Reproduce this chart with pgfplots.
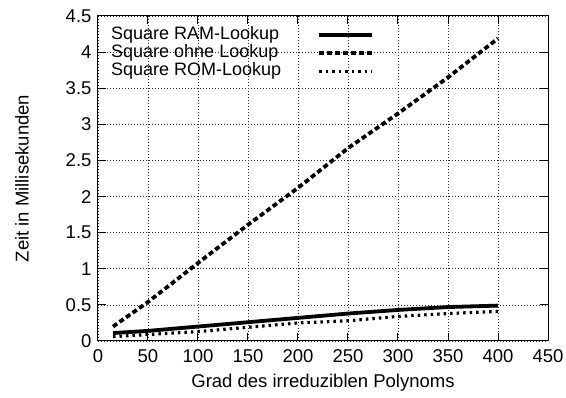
\documentclass[border=0pt]{standalone}
\usepackage{fontspec}
\setmainfont{Liberation Sans}
\usepackage{pgfplots}
\pgfplotsset{compat=1.18}
\begin{document}
\begin{tikzpicture}
\path[use as bounding box] (-98pt,-57pt) rectangle (468pt,341pt);
\begin{axis}[
  scale only axis,
  width=450pt, height=325pt,
  xmin=0, xmax=450, ymin=0, ymax=4.5,
  xtick={0,50,...,450},
  ytick={0,0.5,...,4.5},
  /pgf/number format/assume math mode=true,
  tick label style={font=\fontsize{18.5}{20}\selectfont},
  label style={font=\fontsize{18.5}{20}\selectfont},
  xticklabel style={yshift=-5pt},
  yticklabel style={xshift=-3pt},
  xlabel={Grad des irreduziblen Polynoms},
  ylabel={Zeit in Millisekunden},
  xlabel style={at={(axis description cs:0.5,-0.129)}, anchor=center},
  ylabel style={at={(axis description cs:-0.169,0.5)}, anchor=center},
  grid=major,
  major grid style={black!80, line width=0.6pt, dash pattern=on 1pt off 2pt},
  tick align=inside,
  xtick pos=both, ytick pos=both,
  major tick length=8pt,
  every tick/.style={black, line width=1pt},
  axis line style={line width=1pt},
  legend plot pos=right,
  legend cell align=left,
  legend style={at={(axis description cs:0,1)}, anchor=north west,
    xshift=10pt, yshift=-8pt, draw=none, fill=none,
    font=\fontsize{18}{18}\selectfont,
    row sep=0pt, column sep=36pt,
    nodes={inner sep=0pt, text height=13.5pt, text depth=4.5pt}},
  legend image code/.code={\draw[#1] (0pt,0pt) -- (53pt,0pt);},
]
\addplot[black, line width=3.8pt] coordinates {
(15,0.11) (50,0.14) (100,0.20) (150,0.26) (200,0.32) (250,0.38) (300,0.43) (350,0.47) (400,0.49)};
\addlegendentry{Square RAM-Lookup}
\addplot[black, line width=3.8pt, dash pattern=on 5pt off 3pt] coordinates {
(15,0.20) (50,0.54) (100,1.08) (150,1.61) (200,2.12) (250,2.67) (300,3.15) (350,3.65) (400,4.19)};
\addlegendentry{Square ohne Lookup}
\addplot[black, line width=3.2pt, dash pattern=on 2.5pt off 4pt] coordinates {
(15,0.06) (50,0.09) (100,0.13) (150,0.19) (200,0.25) (250,0.28) (300,0.34) (350,0.38) (400,0.41)};
\addlegendentry{Square ROM-Lookup}
\end{axis}
\end{tikzpicture}
\end{document}
